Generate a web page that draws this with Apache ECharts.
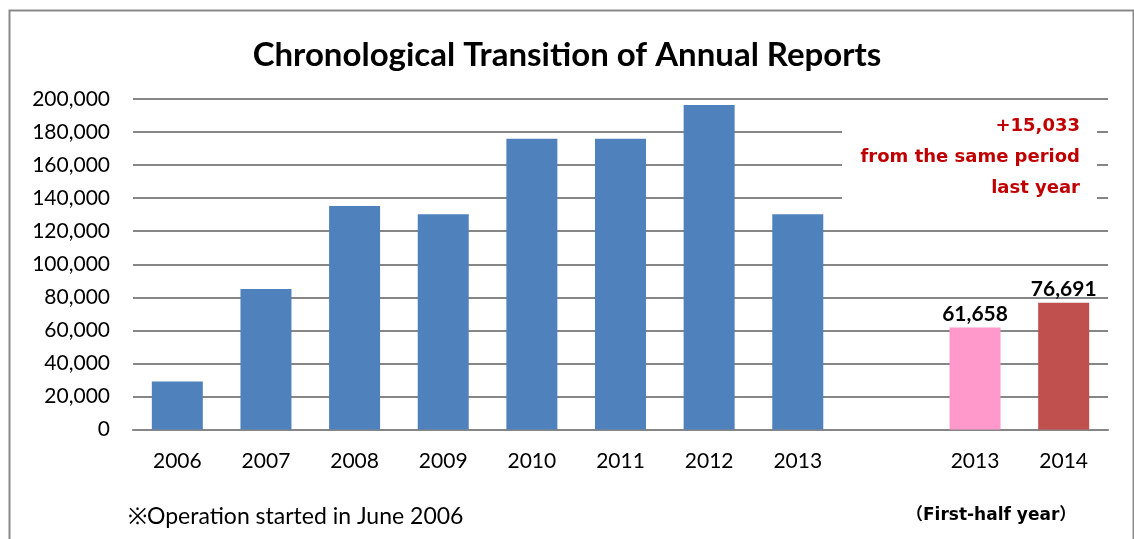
<!DOCTYPE html>
<html>
<head>
<meta charset="utf-8">
<style>
  html, body { margin: 0; padding: 0; background: #fff; }
  #chart { width: 1134px; height: 539px; }
</style>
<script src="https://cdn.jsdelivr.net/npm/echarts@6/dist/echarts.min.js"></script>
</head>
<body>
<div id="chart"></div>
<script>
"use strict";

// data
var categories = ['2006', '2007', '2008', '2009', '2010', '2011', '2012', '2013', '', '2013', '2014'];
var annualValues = [29000, 85000, 135300, 130300, 176000, 176000, 196300, 130300];
var halfYearValues = [61658, 76691];
var halfYearColors = ['#FF99CC', '#C0504D'];
var yTicks = { min: 0, max: 200000, interval: 20000 };
var noteLines = ['+15,033', 'from the same period', 'last year'];
var footNote = '※Operation started in June 2006';
var halfNote = '（First-half year）';

var chart = echarts.init(document.getElementById('chart'));

var barData = [];
for (var i = 0; i < annualValues.length; i++) {
    barData.push({ value: annualValues[i], itemStyle: { color: '#4F81BD' } });
}
barData.push('-');
for (var j = 0; j < halfYearValues.length; j++) {
    barData.push({
        value: halfYearValues[j],
        itemStyle: { color: halfYearColors[j] },
        label: {
            show: true,
            position: 'top',
            distance: 3,
            fontFamily: 'Lato',
            fontWeight: 'bold',
            fontSize: 21,
            color: '#000',
            formatter: function (p) { return p.value.toLocaleString('en-US'); }
        }
    });
}

// red note in the white box, right aligned
var noteGraphics = noteLines.map(function (t, k) {
    return {
        type: 'text',
        right: 54,
        top: 117 + k * 31,
        z: 110,
        style: {
            text: t,
            fill: '#C00000',
            font: 'bold 18px "DejaVu Sans", sans-serif',
            textAlign: 'right'
        }
    };
});

var option = {
    animation: false,
    title: {
        text: 'Chronological Transition of Annual Reports',
        left: 'center',
        top: 34,
        textStyle: { fontFamily: 'Lato', fontWeight: 'bold', fontSize: 33, color: '#000' }
    },
    grid: { left: 133, right: 26, top: 99, bottom: 109.5 },
    xAxis: {
        type: 'category',
        data: categories,
        axisTick: { show: false },
        axisLine: { lineStyle: { color: '#868686', width: 2 } },
        axisLabel: { margin: 21, fontFamily: 'Lato', fontSize: 21, color: '#000' }
    },
    yAxis: {
        type: 'value',
        min: yTicks.min,
        max: yTicks.max,
        interval: yTicks.interval,
        axisLine: { show: false },
        axisTick: { show: false },
        splitLine: { lineStyle: { color: '#868686', width: 2 } },
        axisLabel: {
            margin: 23,
            fontFamily: 'Lato',
            fontSize: 21,
            color: '#000',
            formatter: function (v) { return v.toLocaleString('en-US'); }
        }
    },
    series: [{
        type: 'bar',
        data: barData,
        barWidth: 51
    }],
    graphic: [
        {
            type: 'rect',
            left: 7, top: 8, z: 0,
            shape: { width: 1124, height: 560 },
            style: { fill: 'none', stroke: '#8A8A8A', lineWidth: 2 }
        },
        {
            type: 'rect',
            left: 842, top: 101, z: 100,
            shape: { width: 255, height: 122 },
            style: { fill: '#fff' }
        },
        {
            type: 'text',
            left: 128, top: 505,
            style: { text: footNote, fill: '#000', font: '23px Lato, sans-serif' }
        },
        {
            type: 'text',
            left: 906, top: 507,
            style: { text: halfNote, fill: '#000', font: 'bold 17px "DejaVu Sans", "Noto Sans CJK JP", sans-serif' }
        }
    ].concat(noteGraphics)
};

chart.setOption(option);
</script>
</body>
</html>
